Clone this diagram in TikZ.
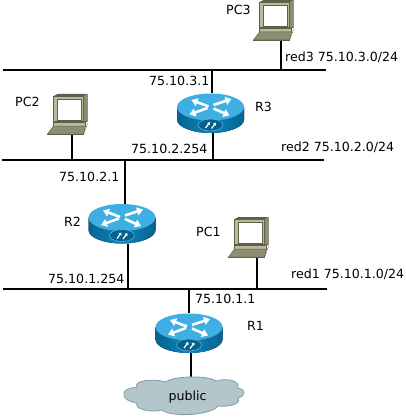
\documentclass[tikz,border=0pt]{standalone}
\usepackage{fontspec}
\setmainfont{DejaVu Sans}
\usetikzlibrary{arrows.meta}
\definecolor{rtop}{HTML}{3FAEE3}
\definecolor{rside}{HTML}{0C86BC}
\definecolor{rdark}{HTML}{06638F}
\definecolor{pcA}{HTML}{B9B99C}
\definecolor{pcB}{HTML}{8E8E74}
\definecolor{pcC}{HTML}{5F5F4C}
\definecolor{cloudf}{HTML}{B3C6CA}
\definecolor{cloudl}{HTML}{7F9EA6}
\tikzset{
  x=1pt,y=-1pt,
  wire/.style={line width=1.7pt,black},
  lbl/.style={font=\fontsize{12.6}{14}\selectfont,inner sep=0pt,anchor=west,text=black},
  routerbox/.style={rectangle,minimum width=67pt,minimum height=40pt,inner sep=0pt,outer sep=0pt},
  pcbox/.style={rectangle,minimum width=38pt,minimum height=40pt,inner sep=0pt,outer sep=0pt},
  rarrow/.style={white,line width=2.6pt,-{Triangle[length=6pt,width=8pt]}},
  router/.pic={
    \fill[left color=rdark,right color=rdark,middle color=rside]
      (-33.5,-6) -- (-33.5,6.5) arc[start angle=180,end angle=0,x radius=33.5,y radius=13.5]
      -- (33.5,-6) -- cycle;
    \fill[rtop] (0,-6) ellipse[x radius=33.5,y radius=13.5];
    \draw[rarrow] (-2,-6.5) -- (-19,-13);
    \draw[rarrow] (3,-8) -- (21,-14);
    \draw[rarrow] (-3,-5) -- (-21,1.5);
    \draw[rarrow] (3,-4.5) -- (19,2.5);
    \fill[rdark] (0,12) ellipse[x radius=12.5,y radius=6];
    \draw[rtop!70!white,line width=.4pt] (0,12) ellipse[x radius=12.5,y radius=6];
    \draw[white,line width=1.2pt,-{Triangle[length=2.6pt,width=3.4pt]}] (-5,15) -- (-0.5,9);
    \draw[white,line width=1.2pt,-{Triangle[length=2.6pt,width=3.4pt]}] (1,15.5) -- (5.5,9.5);
  },
  pcpic/.pic={
    \fill[pcC] (-13,-19) -- (-9,-21) -- (21,-21) -- (21,7) -- (17,7) -- cycle;
    \fill[pcB] (17,-19) -- (21,-21) -- (21,5) -- (17,7) -- cycle;
    \fill[pcA,draw=pcC,line width=.5pt] (-13.5,-19) rectangle (17,6);
    \fill[white,draw=pcC,line width=.6pt] (-9.5,-16) rectangle (15,5);
    \fill[pcA,draw=pcC,line width=.5pt] (-13,7) -- (19,7) -- (19,11) -- (-13,11) -- cycle;
    \fill[pcB,draw=pcC,line width=.5pt] (-13,11) -- (19,11) -- (17,19) -- (-19,19) -- cycle;
    \fill[pcC] (-19.5,19) -- (17,19) -- (17,20) -- (-19.5,20) -- cycle;
    \fill[pcC] (17,19) -- (21,8) -- (21,9) -- (17,20) -- cycle;
  }
}
\begin{document}
\begin{tikzpicture}
\useasboundingbox (0,0) rectangle (405,417);
\fill[white] (0,0) rectangle (405,417);

\node[routerbox] (r3) at (210.5,113) {};
\node[routerbox] (r2) at (122,223.5) {};
\node[routerbox] (r1) at (189,333) {};
\node[pcbox] (pc3) at (272.5,21) {};
\node[pcbox] (pc2) at (66.5,115) {};
\node[pcbox] (pc1) at (247.5,238) {};

\coordinate (b3l) at (3,70);   \coordinate (b3r) at (326,70);
\coordinate (b2l) at (2,160);  \coordinate (b2r) at (324,160);
\coordinate (b1l) at (3,289);  \coordinate (b1r) at (327,289);
\draw[wire] (b3l) -- (b3r);
\draw[wire] (b2l) -- (b2r);
\draw[wire] (b1l) -- (b1r);

\coordinate (t3pc) at (281,70);
\coordinate (t3r) at (212,70);
\coordinate (t2r3) at (213,160);
\coordinate (t2pc) at (72,160);
\coordinate (t2r2) at (125,160);
\coordinate (t1r2) at (128,289);
\coordinate (t1pc) at (257,289);
\coordinate (t1r1) at (189,289);
\coordinate (cloudtop) at (191,378);

\draw[wire] (t3pc) -- (t3pc |- pc3.south);
\draw[wire] (t3r) -- (t3r |- r3.north);
\draw[wire] (t2r3) -- (t2r3 |- r3.south);
\draw[wire] (t2pc) -- (t2pc |- pc2.south);
\draw[wire] (t2r2) -- (t2r2 |- r2.north);
\draw[wire] (t1r2) -- (t1r2 |- r2.south);
\draw[wire] (t1pc) -- (t1pc |- pc1.south);
\draw[wire] (t1r1) -- (t1r1 |- r1.north);
\draw[wire] (cloudtop) -- (cloudtop |- r1.south);

\pic at (r3) {router};
\pic at (r2) {router};
\pic at (r1) {router};
\pic at (pc3) {pcpic};
\pic at (pc2) {pcpic};
\pic at (pc1) {pcpic};

\fill[cloudf,draw=cloudl,line width=.8pt]
  (124,395)
  .. controls (122,390) and (130,388) .. (137,387)
  .. controls (133,381) and (152,378) .. (166,382)
  .. controls (172,376) and (208,375) .. (216,381)
  .. controls (226,378) and (240,380) .. (238,388)
  .. controls (247,390) and (245,396) .. (238,398)
  .. controls (242,405) and (226,407) .. (218,406)
  .. controls (212,415) and (172,418) .. (162,410)
  .. controls (150,413) and (134,409) .. (137,403)
  .. controls (130,402) and (124,399) .. (124,395) -- cycle;
\node[inner sep=0pt,font=\fontsize{12.6}{14}\selectfont] (cloud) at (187.5,397) {public};

\node[lbl] (lpc3) at (226,10) {PC3};
\node[lbl] (lpc2) at (15,102) {PC2};
\node[lbl] (lpc1) at (196,232) {PC1};
\node[lbl] (lr3) at (255,107) {R3};
\node[lbl] (lr2) at (64,222) {R2};
\node[lbl] (lr1) at (247,326) {R1};
\node[lbl] (n3) at (285,57) {red3 75.10.3.0/24};
\node[lbl] (n2) at (281,147) {red2 75.10.2.0/24};
\node[lbl] (n1) at (291,274) {red1 75.10.1.0/24};
\node[lbl] (a1) at (149,81) {75.10.3.1};
\node[lbl] (a2) at (131,149) {75.10.2.254};
\node[lbl] (a3) at (59,177) {75.10.2.1};
\node[lbl] (a4) at (48,279) {75.10.1.254};
\node[lbl] (a5) at (195,299) {75.10.1.1};
\end{tikzpicture}
\end{document}
